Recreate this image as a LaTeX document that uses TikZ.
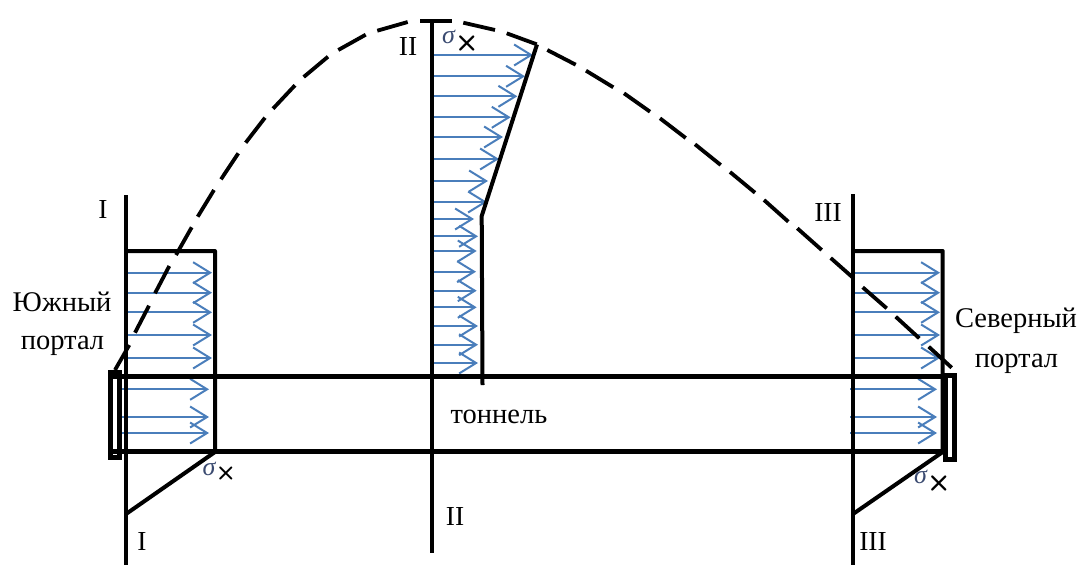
\documentclass[tikz,border=0pt]{standalone}
\usepackage{fontspec}
\setmainfont{Liberation Serif}
\usetikzlibrary{arrows.meta}
\definecolor{arrowblue}{HTML}{4A7EBB}
\definecolor{sigmacol}{HTML}{3A4A70}
\tikzset{
  heavy/.style={line width=4pt,black,line cap=butt,line join=miter},
  thickbar/.style={line width=5pt,black},
  dashpiece/.style={line width=3.8pt,black,line cap=butt},
  stress/.style={line width=2pt,arrowblue,-{Straight Barb[length=17pt,width=21pt,line width=2pt]}},
  lab/.style={anchor=base,inner sep=0pt,outer sep=0pt,font=\fontsize{28.5}{28.5}\selectfont},
  numeral/.style={lab,font=\fontsize{27.5}{27.5}\selectfont},
  sig/.style={anchor=base west,inner sep=0pt,outer sep=0pt},
}
\newcommand{\strs}[3]{\draw[stress] (#1,#3) -- (#2,#3);}
% sigma with a lowered cross: lowering, size of the cross
\newcommand{\sigx}[2]{{\fontsize{26}{26}\selectfont\itshape\textcolor{sigmacol}{σ}}\raisebox{-#1pt}{\fontsize{#2}{#2}\selectfont\sffamily\bfseries ×}}
\begin{document}
\begin{tikzpicture}[x=1pt,y=-1pt]
\useasboundingbox (0,0) rectangle (1081,565);
% stress arrows, left
\foreach \yy in {272.7,292.7,312.3,335,358} {\strs{125}{212}{\yy}}
\foreach \yy in {389.3,417,433} {\strs{122}{209}{\yy}}
% stress arrows, right
\foreach \yy in {272.7,292.7,312.3,335,358} {\strs{853}{940}{\yy}}
\foreach \yy in {389.3,417,433} {\strs{850}{937}{\yy}}
% stress arrows, centre
\foreach \xx/\yy in {533/55,525/76.3,517.3/96.3,510.7/117.3,503/137,499/159,488/181,487/202,474/219,478/236.3,476.7/251,476/271.7,476.7/290.7,476.7/307.3,478/326,478/344.7,478/363} {\strs{432}{\xx}{\yy}}
% section lines
\draw[heavy] (125.7,195) -- (125.7,565);
\draw[heavy] (432.3,20) -- (432.3,553);
\draw[heavy] (853,194) -- (853,565);
% tunnel
\draw[thickbar] (110,376.7) -- (945,376.7);
\draw[thickbar] (110,451.7) -- (945,451.7);
% portals
\draw[line width=5pt] (110,372.5) rectangle (119.3,457);
\draw[line width=5pt] (945.2,375.2) rectangle (954.2,459.5);
% stress envelopes
\draw[heavy,line join=round] (125.7,251) -- (215,251) -- (215,452) -- (126,514);
\draw[heavy,line join=round] (853,251) -- (942.7,251) -- (942.7,452) -- (853,514);
\draw[heavy,line join=round] (537,44.5) -- (481.7,216) -- (482.5,385);
% dashed envelope
\foreach \xa/\ya/\xb/\yb in {
 115/370/129.3/345, 135/332.7/149/305.7, 155/293.3/169.3/266,
 176/255/191.7/227.3, 197.7/216.7/214/190, 221/179.3/238.3/153.3,
 245.7/142.7/265/117.7, 273/108.7/295/85.3, 303.7/77/328/56.7,
 338.3/50/365.7/34.7, 377.3/30.7/407.7/22, 420/20.7/451.7/20.7,
 463.3/22.7/495/30, 506.7/33.3/536.7/44.3, 547.3/50/575.7/64.7,
 586/70.7/613.3/87.3, 624/93.3/650/111.7, 660/118.3/685.7/138,
 695/144.3/720.7/165, 730/172/755/192.7, 764/200/788.3/221.7,
 797.3/228.3/821.7/250, 830.7/258/853.3/278, 862.7/287.3/886.7/308.3,
 895.7/316.7/919.3/338.3, 928.7/346.7/951.7/367.7}
 {\draw[dashpiece] (\xa,\ya) -- (\xb,\yb);}
% labels
\node[numeral] (secItop) at (103,218) {I};
\node[numeral] (secIbot) at (142,550) {I};
\node[numeral] (secIItop) at (408,55) {II};
\node[numeral] (secIIbot) at (455,525) {II};
\node[numeral] (secIIItop) at (828,221) {III};
\node[numeral] (secIIIbot) at (873,550) {III};
\node[lab] (south1) at (62,311.5) {Южный};
\node[lab] (south2) at (62.5,349) {портал};
\node[lab] (north1) at (1016,327) {Северный};
\node[lab] (north2) at (1016.5,367) {портал};
\node[lab] (tunnel) at (499,423) {тоннель};
% sigma labels
\node[sig] (s1) at (442,43) {\sigx{7.5}{28}};
\node[sig] (s2) at (202.7,475) {\sigx{4.5}{24}};
\node[sig] (s3) at (914,483) {\sigx{7.5}{28}};
\end{tikzpicture}
\end{document}
